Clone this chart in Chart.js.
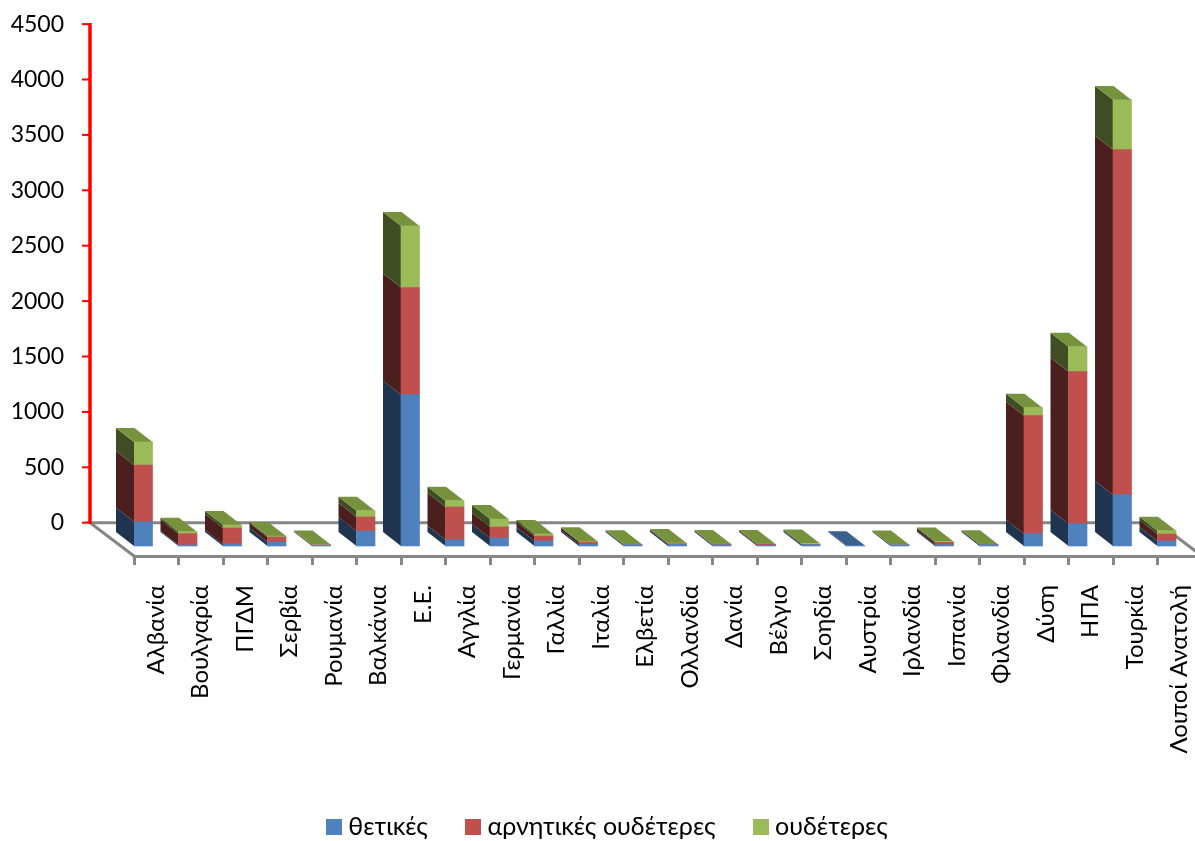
<!DOCTYPE html>
<html>
<head>
<meta charset="utf-8">
<script src="https://cdn.jsdelivr.net/npm/chart.js@4"></script>
<style>
  html, body { margin: 0; padding: 0; background: #fff; overflow: hidden; }
  #wrap { width: 1195px; height: 841px; overflow: hidden; }
</style>
</head>
<body>
<div id="wrap"><canvas id="myChart" width="1202" height="841"></canvas></div>
<script>
const categories = ['Αλβανία', 'Βουλγαρία', 'ΠΓΔΜ', 'Σερβία', 'Ρουμανία', 'Βαλκάνια', 'Ε.Ε.', 'Αγγλία', 'Γερμανία', 'Γαλλία', 'Ιταλία', 'Ελβετία', 'Ολλανδία', 'Δανία', 'Βέλγιο', 'Σοηδία', 'Αυστρία', 'Ιρλανδία', 'Ισπανία', 'Φιλανδία', 'Δύση', 'ΗΠΑ', 'Τουρκία', 'Λοιποί Ανατολή']
const thetikes = [219, 9, 18, 36, 5, 135, 1366, 57, 72, 45, 15, 12, 14, 10, 6, 12, 6, 10, 12, 12, 111, 201, 463, 45]
const arnitikes = [512, 102, 144, 45, 5, 127, 966, 295, 99, 45, 20, 0, 6, 4, 9, 2, 0, 0, 21, 0, 1065, 1372, 3114, 63]
const oudeteres = [208, 18, 27, 9, 3, 57, 557, 57, 72, 18, 8, 3, 8, 3, 2, 8, 0, 3, 8, 3, 72, 226, 449, 30]
const yTicks = [0, 500, 1000, 1500, 2000, 2500, 3000, 3500, 4000, 4500]
const seriesNames = ['θετικές', 'αρνητικές ουδέτερες', 'ουδέτερες']

const frontColors = ['#4F81BD', '#C0504D', '#9BBB59']
const sideColors = ['#1F344F', '#4B1F1E', '#3F4C24']
const topColors = ['#3A6090', '#943C3A', '#76923C']
const FONT = "Lato, Carlito, 'Liberation Sans', sans-serif"
const GREY = '#868686'
const depthX = -18
const depthY = -14

const toPoints = (values) => values.map((v, i) => ({ x: i, y: v }))

const swatch = (color) => {
  const c = document.createElement('canvas')
  c.width = 16
  c.height = 16
  const g = c.getContext('2d')
  g.fillStyle = color
  g.fillRect(0, 0, 16, 16)
  return c
}

// draws the fake 3d: floor, red axis, then side and top of each bar
const box3d = {
  id: 'box3d',
  afterLayout(chart) {
    chart.legend.top = 770.5
    chart.legend.right += 18.5
  },
  beforeDatasetsDraw(chart) {
    const ctx = chart.ctx
    const sx = chart.scales.x
    const sy = chart.scales.y
    const wallX = sx.left - 44
    const backY = sy.getPixelForValue(0)
    const topY = sy.getPixelForValue(4500)
    const backRight = sx.right - 44

    ctx.save()
    ctx.strokeStyle = GREY
    ctx.lineWidth = 3
    ctx.beginPath()
    ctx.moveTo(sx.left, sx.top)
    ctx.lineTo(wallX, backY)
    ctx.lineTo(backRight, backY)
    ctx.lineTo(sx.right, sx.top)
    ctx.stroke()

    ctx.strokeStyle = '#FF0000'
    ctx.lineWidth = 3.5
    ctx.beginPath()
    ctx.moveTo(wallX, backY + 1)
    ctx.lineTo(wallX, topY - 1)
    ctx.stroke()
    ctx.lineWidth = 2
    sy.ticks.forEach((t) => {
      const py = sy.getPixelForValue(t.value)
      ctx.beginPath()
      ctx.moveTo(wallX - 8, py)
      ctx.lineTo(wallX, py)
      ctx.stroke()
    })

    chart.data.datasets.forEach((ds, d) => {
      chart.getDatasetMeta(d).data.forEach((bar, i) => {
        const left = bar.x - bar.width / 2
        const right = bar.x + bar.width / 2
        ctx.fillStyle = sideColors[d]
        ctx.beginPath()
        ctx.moveTo(left, bar.y)
        ctx.lineTo(left + depthX, bar.y + depthY)
        ctx.lineTo(left + depthX, bar.base + depthY)
        ctx.lineTo(left, bar.base)
        ctx.closePath()
        ctx.fill()

        const above = chart.data.datasets.slice(d + 1).some((o) => o.data[i].y > 0)
        if (ds.data[i].y > 0 && !above) {
          ctx.fillStyle = topColors[d]
          ctx.beginPath()
          ctx.moveTo(left, bar.y)
          ctx.lineTo(left + depthX, bar.y + depthY)
          ctx.lineTo(right + depthX, bar.y + depthY)
          ctx.lineTo(right, bar.y)
          ctx.closePath()
          ctx.fill()
        }
      })
    })
    ctx.restore()
  }
}

const ctx = document.getElementById('myChart')

new Chart(ctx, {
  type: 'bar',
  plugins: [box3d],
  data: {
    labels: categories,
    datasets: [thetikes, arnitikes, oudeteres].map((values, d) => ({
      label: seriesNames[d],
      data: toPoints(values),
      xAxisID: 'xb',
      yAxisID: 'yb',
      backgroundColor: frontColors[d],
      borderWidth: 0,
      barThickness: 18.5
    }))
  },
  options: {
    responsive: false,
    animation: false,
    devicePixelRatio: 1,
    layout: { padding: { top: 20 } },
    plugins: {
      tooltip: { enabled: false },
      legend: {
        position: 'bottom',
        labels: {
          usePointStyle: true,
          pointStyleWidth: 3,
          boxHeight: 16,
          padding: 44,
          color: '#000',
          font: { family: FONT, size: 25 },
          generateLabels: (chart) => Chart.defaults.plugins.legend.labels.generateLabels(chart)
            .map((item, d) => ({ ...item, pointStyle: swatch(frontColors[d]) }))
        }
      }
    },
    scales: {
      x: {
        type: 'category',
        offset: true,
        afterFit: (s) => { s.height = 206; s.paddingLeft = 0; s.paddingRight = 0 },
        grid: { offset: true, drawOnChartArea: false, color: GREY, tickColor: GREY, tickLength: 9, lineWidth: 3 },
        border: { color: GREY, width: 3 },
        ticks: { autoSkip: false, minRotation: 90, maxRotation: 90, padding: 20, color: '#000', font: { family: FONT, size: 24 } }
      },
      xb: { type: 'linear', display: false, stacked: true, offset: false, min: -0.208, max: 23.792 },
      y: {
        type: 'linear',
        position: 'left',
        min: -300.5,
        max: 4537,
        afterFit: (s) => { s.width = 134; s.paddingTop = 0; s.paddingBottom = 0 },
        afterBuildTicks: (s) => { s.ticks = yTicks.map((v) => ({ value: v })) },
        grid: { display: false, drawTicks: false },
        border: { display: false },
        ticks: { padding: 70, color: '#000', font: { family: FONT, size: 23 }, callback: (v) => String(v) }
      },
      yb: { type: 'linear', display: false, stacked: true, min: -90.3, max: 4747 }
    }
  }
})
</script>
</body>
</html>
